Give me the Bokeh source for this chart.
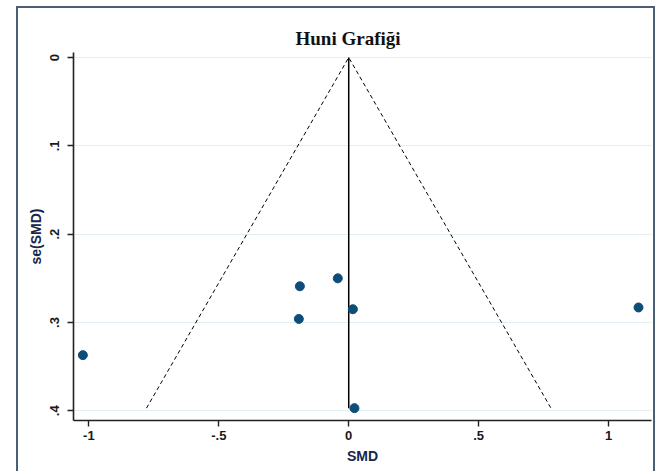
from bokeh.plotting import figure
from bokeh.models import Range1d, FixedTicker
from bokeh.embed import file_html
from bokeh.resources import INLINE

# data
smd = [-1.023, -0.188, -0.192, -0.042, 0.016, 0.022, 1.115]
se_smd = [0.337, 0.259, 0.296, 0.250, 0.285, 0.397, 0.283]
x_ticks = [-1, -0.5, 0, 0.5, 1]
x_labels = ["-1", "-.5", "0", ".5", "1"]
y_ticks = [0, 0.1, 0.2, 0.3, 0.4]
y_labels = ["0", ".1", ".2", ".3", ".4"]
pooled = 0.0
title_text = "Huni Grafiği"

se_max = max(se_smd)
funnel_x = [pooled - 1.96 * se_max, pooled, pooled + 1.96 * se_max]
funnel_y = [se_max, 0, se_max]

frame_col = "#4a6079"
p = figure(width=657, height=471, output_backend="svg", toolbar_location=None,
           x_range=Range1d(-1.059, 1.165), y_range=Range1d(0.411, -0.0057),
           min_border_left=73, min_border_right=6, min_border_top=52, min_border_bottom=51)
p.background_fill_color = "white"
p.border_fill_alpha = 0
p.outline_line_color = None
# outer graph-region border (left, top and right edges) drawn behind the transparent border area
p.styles = {
    "background-color": "white",
    "background-image": ", ".join([f"linear-gradient({frame_col}, {frame_col})"] * 3),
    "background-position": "16px 6px, 16px 6px, 653px 6px",
    "background-size": "2px 100%, 639px 2px, 2px 100%",
    "background-repeat": "no-repeat",
}

# title
p.title.text = title_text
p.title.align = "left"
p.title.offset = 222
p.title.text_font = "Liberation Serif"
p.title.text_font_style = "bold"
p.title.text_font_size = "19px"
p.title.text_color = "#111111"
p.title.standoff = 8

# gridlines
p.xgrid.grid_line_color = None
p.ygrid.grid_line_color = "#e2eff2"
p.ygrid.grid_line_width = 1.2

# funnel
p.line(funnel_x, funnel_y, line_color="black", line_width=1, line_dash="4 3")
p.line([pooled, pooled], [0, se_max], line_color="black", line_width=1.5)

# points
p.scatter(smd, se_smd, marker="circle", size=9, fill_color="#0e4d78", line_color="#0e4d78")

# axes
for ax in (p.xaxis[0], p.yaxis[0]):
    ax.axis_line_color = "#222222"
    ax.axis_line_width = 1.6
    ax.major_tick_line_color = "#222222"
    ax.major_tick_line_width = 1.4
    ax.major_tick_out = 6
    ax.major_tick_in = 0
    ax.minor_tick_line_color = None
    ax.major_label_text_font = "Liberation Sans"
    ax.major_label_text_font_size = "13px"
    ax.major_label_text_font_style = "bold"
    ax.major_label_text_color = "#1a1a1a"
    ax.axis_label_text_font = "Liberation Sans"
    ax.axis_label_text_font_size = "14px"
    ax.axis_label_text_font_style = "bold"
    ax.axis_label_text_color = "#18264a"

p.xaxis[0].ticker = FixedTicker(ticks=x_ticks)
p.xaxis[0].major_label_overrides = {t: l for t, l in zip(x_ticks, x_labels)}
p.xaxis[0].axis_label = "SMD"
p.xaxis[0].major_label_standoff = 4
p.xaxis[0].axis_label_standoff = 5

p.yaxis[0].ticker = FixedTicker(ticks=y_ticks)
p.yaxis[0].major_label_overrides = {t: l for t, l in zip(y_ticks, y_labels)}
p.yaxis[0].major_label_orientation = "vertical"
p.yaxis[0].axis_label = "se(SMD)"
p.yaxis[0].major_label_standoff = 8
p.yaxis[0].axis_label_standoff = 4

open("out.html", "w").write(file_html(p, INLINE))
